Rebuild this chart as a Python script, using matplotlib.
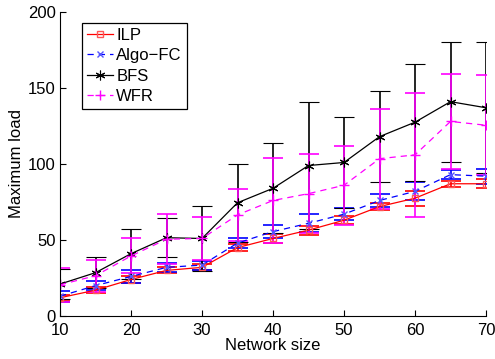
import matplotlib
matplotlib.use("Agg")
import matplotlib.pyplot as plt

plt.rcParams['font.family'] = ['Liberation Sans', 'DejaVu Sans']

x = [10, 15, 20, 25, 30, 35, 40, 45, 50, 55, 60, 65, 70]
ilp = [12, 17, 24, 30, 32, 45, 51, 56.5, 63, 72, 77.5, 87, 87]
ilp_err = [2, 2, 2, 2, 2, 2.5, 3, 3, 2.5, 2.5, 5, 2, 3]
algo = [13, 20, 26, 32, 33.5, 48, 55.5, 61, 67, 76, 82, 93, 92]
algo_err = [3.5, 3, 4, 3, 3, 3.5, 4.5, 6, 4, 4, 6, 3, 5]
bfs = [21, 28.5, 41, 51.5, 51, 74.5, 84, 99, 101, 118, 127.5, 141, 137]
bfs_err = [10, 10, 16.5, 13, 21.5, 25.5, 29.5, 42, 30, 30, 38.5, 39.5, 43]
wfr = [20.5, 26.5, 39.5, 50.5, 51, 66.5, 76, 80.5, 86, 103.5, 106, 128, 125.5]
wfr_err = [11, 10.5, 11.5, 16.5, 14, 17, 28, 26, 26, 33, 41, 31, 33]

xticks = [10, 20, 30, 40, 50, 60, 70]
yticks = [0, 50, 100, 150, 200]

fig = plt.figure(figsize=(4.95, 3.59), dpi=100)
ax = fig.add_axes([60/495, 1-316/359, 426/495, 304/359])

asterisk = (6, 2, 0)
common = dict(capsize=7, elinewidth=1.2, capthick=1.2, lw=0.9)

c1 = ax.errorbar(x, ilp, yerr=ilp_err, color='#ff0000', ls='-', marker='s',
                 mfc='none', mec='#ff5555', ms=5, **common)
c2 = ax.errorbar(x, algo, yerr=algo_err, color='#0000ff', ls=(0, (5, 4)), marker='x',
                 mec='#5555ff', ms=5, **common)
c3 = ax.errorbar(x, bfs, yerr=bfs_err, color='black', ls='-', marker=asterisk,
                 ms=7, mew=0.8, **common)
c4 = ax.errorbar(x, wfr, yerr=wfr_err, color='#ff00ff', ls=(0, (5, 4)), marker='+',
                 ms=7, **common)

ax.set_xlim(10, 70)
ax.set_ylim(0, 200)
ax.set_xticks(xticks)
ax.set_yticks(yticks)
ax.spines['top'].set_visible(False)
ax.spines['right'].set_visible(False)
ax.tick_params(direction='in', labelsize=12, length=4)
ax.tick_params(axis='x', pad=5)
ax.tick_params(axis='y', pad=3)
ax.set_xlabel('Network size', fontsize=12, labelpad=0)
ax.set_ylabel('Maximum load', fontsize=12, labelpad=3)

leg = ax.legend([c1[0], c2[0], c3[0], c4[0]], ['ILP', 'Algo\u2212FC', 'BFS', 'WFR'],
                loc='upper left', bbox_to_anchor=(22/426, 1-11/304), borderaxespad=0,
                fancybox=False, edgecolor='black', framealpha=1, fontsize=12,
                handlelength=1.55, handletextpad=0.2, labelspacing=0.32,
                borderpad=0.3)
leg.get_frame().set_linewidth(0.9)

fig.savefig('out.png', dpi=100)
